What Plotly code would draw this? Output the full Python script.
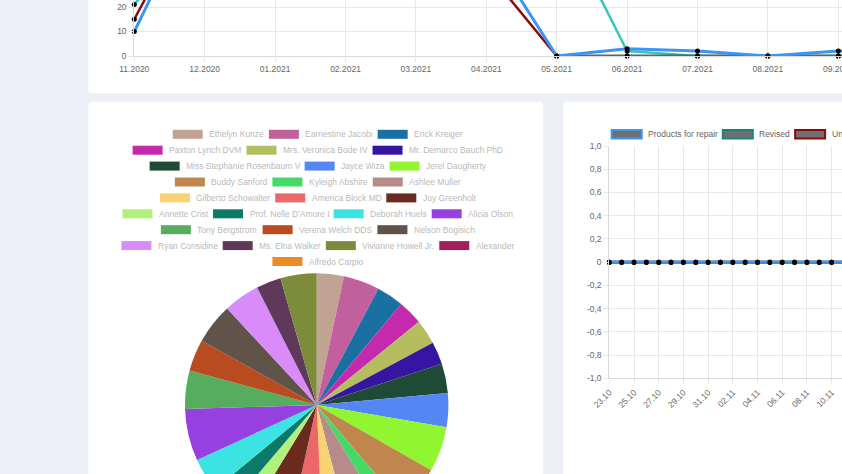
import plotly.graph_objects as go

# ---------------- data ----------------
months = ["11.2020", "12.2020", "01.2021", "02.2021", "03.2021", "04.2021",
          "05.2021", "06.2021", "07.2021", "08.2021", "09.2021", "10.2021"]
repair_monthly = [10, 69, 55, 40, 62, 45, 0, 3, 2, 0, 2, 2]
revised_monthly = [None, None, None, None, None, None, 0, 0, 0, 0, 0, 0]
unaccepted_monthly = [15, 69, 50, 38, 57, 35, 0, 0, 0, 0, 0, 0]
accepted_monthly = [21, 57, 66, 49, 70, 80, 59, 2, 0, 0, 0, 0]
month_ticks = [0, 10, 20]

days = ["23.10", "24.10", "25.10", "26.10", "27.10", "28.10", "29.10", "30.10",
        "31.10", "01.11", "02.11", "03.11", "04.11", "05.11", "06.11", "07.11",
        "08.11", "09.11", "10.11", "11.11", "12.11", "13.11", "14.11", "15.11",
        "16.11", "17.11", "18.11", "19.11", "20.11", "21.11"]
repair_daily = [0, 0, 0, 0, 0, 0, 0, 0, 0, 0, 0, 0, 0, 0, 0,
                0, 0, 0, 0, 0, 0, 0, 0, 0, 0, 0, 0, 0, 0, 0]
revised_daily = [0, 0, 0, 0, 0, 0, 0, 0, 0, 0, 0, 0, 0, 0, 0,
                 0, 0, 0, 0, 0, 0, 0, 0, 0, 0, 0, 0, 0, 0, 0]
unaccepted_daily = [0, 0, 0, 0, 0, 0, 0, 0, 0, 0, 0, 0, 0, 0, 0,
                    0, 0, 0, 0, 0, 0, 0, 0, 0, 0, 0, 0, 0, 0, 0]
daily_tickvals = [-1, -0.8, -0.6, -0.4, -0.2, 0, 0.2, 0.4, 0.6, 0.8, 1]
daily_ticktext = ["-1,0", "-0,8", "-0,6", "-0,4", "-0,2", "0", "0,2", "0,4", "0,6", "0,8", "1,0"]
daily_series_names = ["Products for repair", "Revised", "Unaccepted"]

people = ["Ethelyn Kunze", "Earnestine Jacobi", "Erick Kreiger",
          "Paxton Lynch DVM", "Mrs. Veronica Bode IV", "Mr. Demarco Bauch PhD",
          "Miss Stephanie Rosenbaum V", "Jayce Wiza", "Jerel Daugherty",
          "Buddy Sanford", "Kyleigh Abshire", "Ashlee Muller",
          "Gilberto Schowalter", "America Block MD", "Joy Greenholt",
          "Annette Crist", "Prof. Nelle D'Amore I", "Deborah Huels", "Alicia Olson",
          "Tony Bergstrom", "Verena Welch DDS", "Nelson Bogisich",
          "Ryan Considine", "Ms. Elna Walker", "Vivianne Howell Jr.", "Alexander",
          "Alfredo Carpio"]
people_counts = [12, 16, 12, 11, 11, 10, 13, 15, 20, 20, 9, 17, 12, 15, 19,
                 9, 10, 15, 23, 17, 14, 18, 16, 11, 16, 0, 0]
people_colors = ["#c1a392", "#c25f9d", "#1b70a3", "#c52aad", "#b4be5e", "#3615a3",
                 "#1f4b36", "#5586f5", "#91f530", "#bf864e", "#43da66", "#b78b89",
                 "#f9d372", "#ec6767", "#6b2a1e", "#b1f17b", "#0b7a69", "#3ce3e3",
                 "#9641df", "#56ad5d", "#b84b1f", "#60534a", "#d98bf9", "#5f395b",
                 "#7d8c3b", "#a21f5e", "#ec8a28"]

# ---------------- layout helpers ----------------
W, H = 842, 540
FONT = "Liberation Sans, Arial, Helvetica, sans-serif"
TICK = "#666666"
GRID = "#e8e8e8"
AXIS = "#d9d9d9"
BLUE, TEAL, DRED, TURQ = "#3a95f3", "#12877b", "#8b0a0a", "#37c6bd"


def X(px):
    return px / W


def Y(py):
    return 1 - py / H


def rrect(x0, y0, x1, y1, r):
    pts = [("M", x0 + r, y0), ("L", x1 - r, y0), ("Q", x1, y0, x1, y0 + r),
           ("L", x1, y1 - r), ("Q", x1, y1, x1 - r, y1), ("L", x0 + r, y1),
           ("Q", x0, y1, x0, y1 - r), ("L", x0, y0 + r), ("Q", x0, y0, x0 + r, y0)]
    out = []
    for p in pts:
        cmd, coords = p[0], p[1:]
        c = []
        for i in range(0, len(coords), 2):
            c.append(f"{X(coords[i]):.5f},{Y(coords[i + 1]):.5f}")
        out.append(cmd + " " + " ".join(c))
    return " ".join(out) + " Z"


AW = {' ': 278, '.': 278, "'": 191, 'A': 667, 'B': 667, 'C': 722, 'D': 722, 'E': 667,
      'F': 611, 'G': 778, 'H': 722, 'I': 278, 'J': 500, 'K': 667, 'L': 556, 'M': 833,
      'N': 722, 'O': 778, 'P': 667, 'Q': 778, 'R': 722, 'S': 667, 'T': 611, 'U': 722,
      'V': 667, 'W': 944, 'X': 667, 'Y': 667, 'Z': 611, 'a': 556, 'b': 556, 'c': 500,
      'd': 556, 'e': 556, 'f': 278, 'g': 556, 'h': 556, 'i': 222, 'j': 222, 'k': 500,
      'l': 222, 'm': 833, 'n': 556, 'o': 556, 'p': 556, 'q': 556, 'r': 333, 's': 500,
      't': 278, 'u': 556, 'v': 500, 'w': 722, 'x': 500, 'y': 500, 'z': 500}


def tw(s, size=8.4):
    return sum(AW.get(ch, 556) for ch in s) * size / 1000


fig = go.Figure()

# ---------------- top monthly chart ----------------
top_series = [("Accepted", accepted_monthly, TURQ, 2.5),
              ("Unaccepted", unaccepted_monthly, DRED, 2.5),
              ("Revised", revised_monthly, TEAL, 2.5),
              ("Products for repair", repair_monthly, BLUE, 3)]
for name, vals, col, lw in top_series:
    fig.add_trace(go.Scatter(x=months, y=vals, name=name, mode="lines+markers",
                             line=dict(color=col, width=lw),
                             marker=dict(color="black", size=5),
                             cliponaxis=False, xaxis="x", yaxis="y"))

# ---------------- right daily chart ----------------
for name, vals, col in [(daily_series_names[2], unaccepted_daily, DRED),
                        (daily_series_names[1], revised_daily, TEAL),
                        (daily_series_names[0], repair_daily, BLUE)]:
    fig.add_trace(go.Scatter(x=days, y=vals, name=name, mode="lines+markers",
                             line=dict(color=col, width=3),
                             marker=dict(color="black", size=5),
                             cliponaxis=False, xaxis="x2", yaxis="y2"))

# ---------------- pie ----------------
cx, cy, R = 316.7, 405.0, 131.7
fig.add_trace(go.Pie(labels=people, values=people_counts, sort=False,
                     direction="clockwise", rotation=0, textinfo="none",
                     marker=dict(colors=people_colors, line=dict(width=0)),
                     domain=dict(x=[X(cx - R), X(cx + R)], y=[Y(cy + R), Y(cy - R)]),
                     automargin=False, showlegend=False))

shapes = [
    dict(type="path", path=rrect(88.3, -20, 960, 93.3, 4), xref="paper", yref="paper",
         fillcolor="white", line=dict(width=0), layer="below"),
    dict(type="path", path=rrect(88.3, 101.7, 543.3, H + 20, 4), xref="paper", yref="paper",
         fillcolor="white", line=dict(width=0), layer="below"),
    dict(type="path", path=rrect(563.3, 101.7, 1100, H + 20, 4), xref="paper", yref="paper",
         fillcolor="white", line=dict(width=0), layer="below"),
]
annotations = []

# pie legend (centered rows, chart.js style)
row_sizes = [3, 3, 3, 3, 3, 4, 3, 4, 1]
BOXW, BOXH, GAP, PAD = 30, 9, 4.5, 7.5
idx = 0
for r, n in enumerate(row_sizes):
    items = list(range(idx, idx + n))
    idx += n
    total = sum(BOXW + GAP + tw(people[i]) for i in items) + PAD * (n - 1)
    x = 316.5 - total / 2
    yc = 134.3 + 15.9 * r
    for i in items:
        shapes.append(dict(type="rect", xref="paper", yref="paper",
                           x0=X(x), x1=X(x + BOXW), y0=Y(yc + BOXH / 2), y1=Y(yc - BOXH / 2),
                           fillcolor=people_colors[i], line=dict(width=0)))
        annotations.append(dict(text=people[i], x=X(x + BOXW + GAP), y=Y(yc),
                                xref="paper", yref="paper", xanchor="left", yanchor="middle",
                                showarrow=False, font=dict(size=8.5, color="#b9b9b9", family=FONT)))
        x += BOXW + GAP + tw(people[i]) + PAD

# right chart legend
x = 611.7
for name, col in zip(daily_series_names, [BLUE, TEAL, DRED]):
    shapes.append(dict(type="rect", xref="paper", yref="paper",
                       x0=X(x), x1=X(x + BOXW), y0=Y(138.5), y1=Y(130),
                       fillcolor="#707070", line=dict(color=col, width=2)))
    annotations.append(dict(text=name, x=X(x + BOXW + GAP), y=Y(134.3),
                            xref="paper", yref="paper", xanchor="left", yanchor="middle",
                            showarrow=False, font=dict(size=8.5, color=TICK, family=FONT)))
    x += BOXW + GAP + tw(name) + PAD

axis_common = dict(showgrid=True, gridcolor=GRID, gridwidth=1, ticks="outside", ticklen=5,
                   tickcolor=GRID, showline=True, linecolor=AXIS, linewidth=1,
                   zeroline=False, automargin=False,
                   tickfont=dict(size=8.5, color=TICK, family=FONT))

fig.update_layout(
    width=W, height=H, autosize=False,
    margin=dict(l=0, r=0, t=0, b=0, pad=0, autoexpand=False),
    paper_bgcolor="#eceff6", plot_bgcolor="rgba(0,0,0,0)",
    showlegend=False,
    font=dict(family=FONT, color=TICK),
    xaxis=dict(axis_common, type="category", domain=[X(134.3), 1],
               range=[0, (W - 134.3) / 70.4], anchor="y"),
    yaxis=dict(axis_common, domain=[Y(56), 1], range=[0, 56 / 2.45],
               tickvals=month_ticks, anchor="x"),
    xaxis2=dict(axis_common, type="category", domain=[X(609.3), 1],
                range=[0, (W - 609.3) / 12.35], tickvals=days[::2], tickangle=-45,
                anchor="y2"),
    yaxis2=dict(axis_common, domain=[Y(378.3), Y(146)], range=[-1, 1],
                tickvals=daily_tickvals, ticktext=daily_ticktext, anchor="x2"),
    shapes=shapes,
    annotations=annotations,
)

fig.write_html("out.html",
               config={"displayModeBar": False},
               post_script="document.body.style.margin='0px';"
                           "document.body.style.overflow='hidden';"
                           "document.documentElement.style.background='#eceff6';")
